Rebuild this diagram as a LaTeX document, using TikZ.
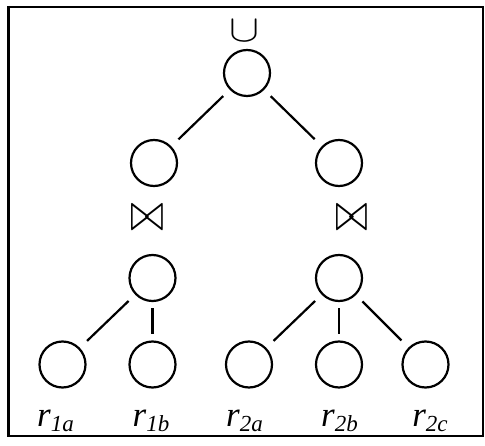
\documentclass[tikz,border=0pt]{standalone}
\usepackage{fontspec}
\setmainfont{Liberation Serif}
\usepackage{amssymb}
\begin{document}
\begin{tikzpicture}[x=1pt,y=-1pt,
  vert/.style={circle,draw,line width=2.2pt,minimum size=46pt,inner sep=0pt},
  edge/.style={line width=2.2pt,shorten <=9pt,shorten >=10pt},
  vedge/.style={line width=2.2pt,shorten <=6pt,shorten >=6pt},
  op/.style={inner sep=0pt},
  lab/.style={anchor=base,inner sep=0pt,font=\fontsize{35}{35}\selectfont\itshape}]
\useasboundingbox (0,0) rectangle (485,446);
% frame
\draw[line width=2pt] (8.5,7) rectangle (483,436);
\draw[line width=3pt] (8.5,6) -- (8.5,437);
% nodes
\node[vert] (root) at (247,73) {};
\node[vert] (m1) at (154,163) {};
\node[vert] (m2) at (339,163) {};
\node[vert] (j1) at (152.5,278) {};
\node[vert] (j2) at (339,278) {};
\node[vert] (l1) at (62.5,364.5) {};
\node[vert] (l2) at (152.5,364.5) {};
\node[vert] (l3) at (249,364.5) {};
\node[vert] (l4) at (339,364.5) {};
\node[vert] (l5) at (425.5,364.5) {};
% operators
\node[op] (u) at (244,31) {\resizebox{30pt}{21pt}{$\cup$}};
\node[op] (b1) at (147.5,218) {\resizebox{33pt}{25pt}{$\bowtie$}};
\node[op] (b2) at (352,218) {\resizebox{33pt}{25pt}{$\bowtie$}};
% edges
\draw[edge] (root) -- (m1);
\draw[edge] (root) -- (m2);
\draw[edge] (j1) -- (l1);
\draw[vedge] (j1) -- (l2);
\draw[edge] (j2) -- (l3);
\draw[vedge] (j2) -- (l4);
\draw[edge] (j2) -- (l5);
% labels
\newcommand{\sbx}[1]{\raisebox{-5pt}{\fontsize{23}{23}\selectfont #1}}
\node[lab] (t1) at (55.5,427) {r\sbx{1a}};
\node[lab] (t2) at (151,427) {r\sbx{1b}};
\node[lab] (t3) at (244.5,427) {r\sbx{2a}};
\node[lab] (t4) at (339.5,427) {r\sbx{2b}};
\node[lab] (t5) at (430,427) {r\sbx{2c}};
\end{tikzpicture}
\end{document}
